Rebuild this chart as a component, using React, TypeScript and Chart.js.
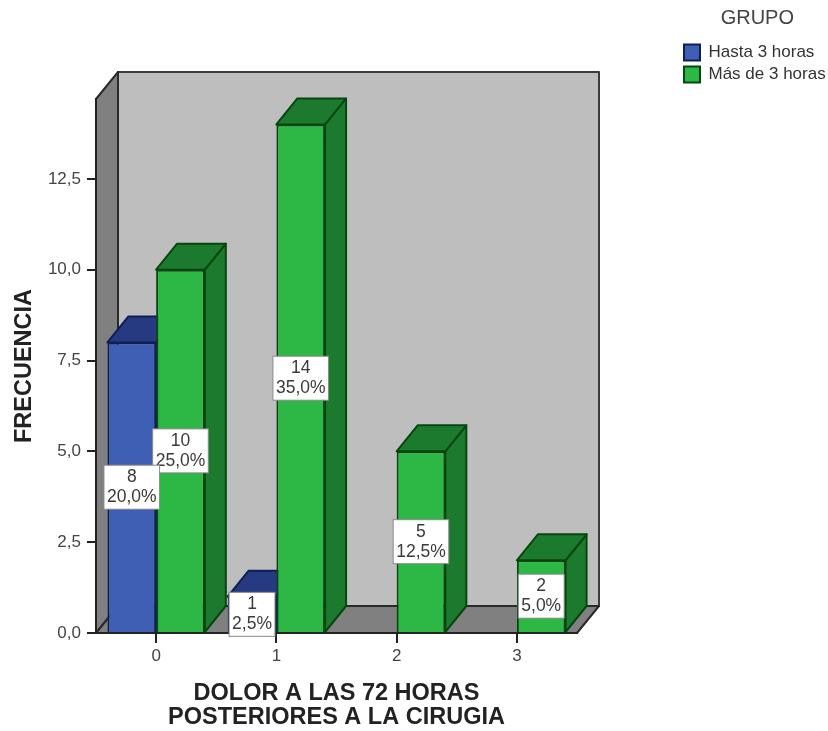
import React, { useEffect, useRef } from "react";
import { Chart, registerables } from "chart.js";

Chart.register(...registerables);

const categories = ["0", "1", "2", "3"];
const hastaTres = [8, 1, null, null];
const masDeTres = [10, 14, 5, 2];
const hastaTresPct = ["20,0%", "2,5%", "", ""];
const masDeTresPct = ["25,0%", "35,0%", "12,5%", "5,0%"];
const serieNames = ["Hasta 3 horas", "Más de 3 horas"];
const yTop = 14.7;

const FONT = '"Liberation Sans", Arial, sans-serif';
const DX = 22;
const DY = 27;

const faces = [
  { top: "#253a80", side: "#1d2f6e", edge: "#101e56" },
  { top: "#1c7a2e", side: "#1c7a2e", edge: "#07470f" },
];

function poly(ctx: CanvasRenderingContext2D, pts: number[][], fill: string, stroke: string, lw = 2) {
  ctx.beginPath();
  pts.forEach(([x, y], i) => (i ? ctx.lineTo(x, y) : ctx.moveTo(x, y)));
  ctx.closePath();
  ctx.fillStyle = fill;
  ctx.fill();
  ctx.strokeStyle = stroke;
  ctx.lineWidth = lw;
  ctx.lineJoin = "round";
  ctx.stroke();
}

const boxPlugin = {
  id: "box3d",
  // Back wall, side wall and floor of the 3D box behind the bars.
  beforeDraw(chart: any) {
    const { ctx, chartArea: a } = chart;
    ctx.save();
    poly(ctx, [[a.left + DX, a.top - DY], [a.right + DX, a.top - DY], [a.right + DX, a.bottom - DY], [a.left + DX, a.bottom - DY]], "#bebebe", "#3c3c3c");
    poly(ctx, [[a.left, a.top], [a.left + DX, a.top - DY], [a.left + DX, a.bottom - DY], [a.left, a.bottom]], "#808080", "#2a2a2a");
    poly(ctx, [[a.left, a.bottom], [a.left + DX, a.bottom - DY], [a.right + DX, a.bottom - DY], [a.right, a.bottom]], "#808080", "#2a2a2a");
    ctx.restore();
  },
  // Series are painted left to right so that each green bar hides the
  // top and side faces of the blue bar beside it.
  beforeDatasetsDraw(chart: any) {
    const { ctx } = chart;
    [0, 1].forEach((d) => {
      const meta = chart.getDatasetMeta(d);
      const f = faces[d];
      ctx.save();
      meta.data.forEach((bar: any, i: number) => {
        if (chart.data.datasets[d].data[i] == null) return;
        const l = bar.x - bar.width / 2;
        const r = bar.x + bar.width / 2;
        poly(ctx, [[r, bar.base], [r + DX - 1, bar.base - DY + 1], [r + DX - 1, bar.y - DY + 1], [r, bar.y]], f.side, f.edge);
        poly(ctx, [[l, bar.y], [l + DX - 1, bar.y - DY + 1], [r + DX - 1, bar.y - DY + 1], [r, bar.y]], f.top, f.edge);
      });
      ctx.restore();
      meta.controller.draw();
    });
  },
  beforeDatasetDraw() {
    return false;
  },
  // White value boxes: count on the first line, percentage on the second.
  afterDatasetsDraw(chart: any) {
    const { ctx } = chart;
    const pcts = [hastaTresPct, masDeTresPct];
    ctx.save();
    ctx.font = `17.5px ${FONT}`;
    ctx.textAlign = "center";
    ctx.textBaseline = "middle";
    [1, 0].forEach((d) => {
      chart.getDatasetMeta(d).data.forEach((bar: any, i: number) => {
        const v = chart.data.datasets[d].data[i];
        if (v == null) return;
        const cy = (bar.y + bar.base) / 2;
        const w = ctx.measureText(pcts[d][i]).width + 6;
        ctx.fillStyle = "#ffffff";
        ctx.strokeStyle = "#8a8a8a";
        ctx.lineWidth = 1;
        ctx.fillRect(bar.x - w / 2, cy - 22, w, 44);
        ctx.strokeRect(bar.x - w / 2, cy - 22, w, 44);
        ctx.fillStyle = "#3a3a3a";
        ctx.fillText(String(v), bar.x, cy - 10);
        ctx.fillText(pcts[d][i], bar.x, cy + 10);
      });
    });
    ctx.restore();
  },
  // Legend sits in the upper right corner, outside the plot box.
  afterLayout(chart: any) {
    const lg = chart.legend;
    const w = lg.width;
    lg.left = 679;
    lg.right = 679 + w;
    lg.top = 4;
    lg.bottom = 92;
  },
};

export default function App() {
  const ref = useRef<HTMLCanvasElement>(null);
  useEffect(() => {
    const chart = new Chart(ref.current!, {
      type: "bar",
      data: {
        labels: categories,
        datasets: [
          { label: serieNames[0], data: hastaTres, backgroundColor: "#3f5fb5", borderColor: "#101e56", borderWidth: 2 },
          { label: serieNames[1], data: masDeTres, backgroundColor: "#2db744", borderColor: "#07470f", borderWidth: 2 },
        ],
      },
      options: {
        animation: false,
        responsive: false,
        layout: { padding: { top: 99, bottom: 0, left: 0, right: 251 } },
        datasets: { bar: { barPercentage: 1, categoryPercentage: 0.81 } },
        plugins: {
          tooltip: { enabled: false },
          legend: {
            position: "chartArea",
            align: "start",
            title: { display: true, text: "GRUPO", color: "#444", position: "center", font: { family: FONT, size: 20 }, padding: { top: 4, bottom: 7 } },
            labels: { boxWidth: 16, boxHeight: 16, padding: 5, color: "#333", font: { family: FONT, size: 17 } },
          },
        },
        scales: {
          x: {
            afterFit: (s: any) => { s.height = 98; },
            grid: { display: true, offset: false, drawOnChartArea: false, drawTicks: true, tickLength: 10, color: "#222", lineWidth: 2 },
            border: { display: true, color: "#222", width: 2 },
            ticks: { color: "#444", padding: 3, font: { family: FONT, size: 17 } },
            title: { display: true, text: ["DOLOR A LAS 72 HORAS", "POSTERIORES A LA CIRUGIA"], color: "#222", padding: 1, font: { family: FONT, size: 23.5, weight: "bold", lineHeight: 1.04 } },
          },
          y: {
            min: 0,
            max: yTop,
            afterFit: (s: any) => { s.width = 96; },
            grid: { display: true, drawOnChartArea: false, drawTicks: true, tickLength: 9, color: "#222", lineWidth: 2 },
            border: { display: true, color: "#222", width: 2 },
            ticks: { stepSize: 2.5, includeBounds: false, color: "#444", padding: 6, font: { family: FONT, size: 17 }, callback: (v: any) => Number(v).toFixed(1).replace(".", ",") },
            title: { display: true, text: "FRECUENCIA", color: "#222", padding: { top: 10, bottom: 0 }, font: { family: FONT, size: 23.5, weight: "bold" } },
          },
        },
      },
      plugins: [boxPlugin],
    } as any);
    return () => chart.destroy();
  }, []);
  return (
    <div style={{ position: "absolute", left: 0, top: 0, width: 828, height: 731 }}>
      <canvas ref={ref} width={828} height={731} style={{ display: "block" }} />
    </div>
  );
}
